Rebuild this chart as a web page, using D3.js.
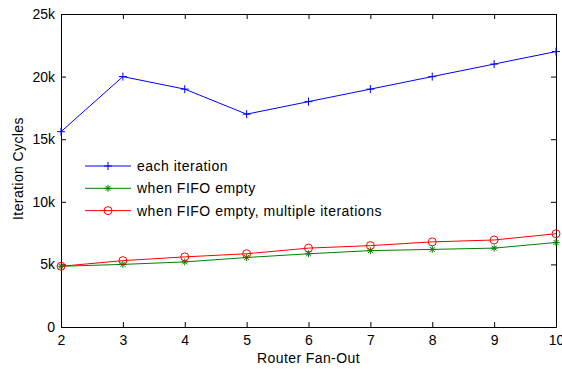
<!DOCTYPE html>
<html>
<head>
<meta charset="utf-8">
<script src="https://cdn.jsdelivr.net/npm/d3@7"></script>
<style>
  body { margin: 0; background: #fff; }
  svg text { font-family: "Liberation Sans", Arial, sans-serif; }
</style>
</head>
<body>
<svg width="562" height="369"></svg>
<script>
const fanOut = [2, 3, 4, 5, 6, 7, 8, 9, 10];
const eachIteration = [15600, 20000, 19000, 17000, 18000, 19000, 20000, 21000, 22000];
const fifoEmpty = [4850, 5000, 5200, 5550, 5850, 6100, 6200, 6300, 6750];
const fifoEmptyMulti = [4850, 5300, 5600, 5850, 6300, 6500, 6800, 6950, 7450];
const yTicks = [0, 5000, 10000, 15000, 20000, 25000];
const yTickLabels = ['0', '5k', '10k', '15k', '20k', '25k'];

const series = [
    { name: 'each iteration', values: eachIteration, color: '#0000ff', marker: 'plus' },
    { name: 'when FIFO empty', values: fifoEmpty, color: '#008000', marker: 'star' },
    { name: 'when FIFO empty, multiple iterations', values: fifoEmptyMulti, color: '#ff0000', marker: 'circle' }
];

const svg = d3.select('svg');
const width = +svg.attr('width');
const height = +svg.attr('height');

const margin = { top: 14, left: 61, right: 6, bottom: 42 };
const innerWidth = width - margin.left - margin.right;
const innerHeight = height - margin.top - margin.bottom;

const xScale = d3.scaleLinear().domain([2, 10]).range([0, innerWidth]);
const yScale = d3.scaleLinear().domain([0, 25000]).range([innerHeight, 0]);

const g = svg.append('g')
    .attr('transform', `translate(${margin.left},${margin.top})`);

const tickLen = 5;

// axes, MATLAB-style ticks pointing in
const xAxis = g.append('g')
    .attr('transform', `translate(0,${innerHeight})`)
    .call(d3.axisBottom(xScale).tickValues(fanOut).tickFormat(d3.format('d'))
        .tickSizeInner(-tickLen).tickSizeOuter(0).tickPadding(8));
const xAxisTop = g.append('g')
    .call(d3.axisTop(xScale).tickValues(fanOut).tickFormat('')
        .tickSizeInner(-tickLen).tickSizeOuter(0));
const yAxis = g.append('g')
    .call(d3.axisLeft(yScale).tickValues(yTicks).tickFormat((d, i) => yTickLabels[i])
        .tickSizeInner(-tickLen).tickSizeOuter(0).tickPadding(6));
const yAxisRight = g.append('g')
    .attr('transform', `translate(${innerWidth},0)`)
    .call(d3.axisRight(yScale).tickValues(yTicks).tickFormat('')
        .tickSizeInner(-tickLen).tickSizeOuter(0));

[xAxis, xAxisTop, yAxis, yAxisRight].forEach(a => {
    a.select('.domain').attr('stroke', '#000').attr('stroke-width', 1);
    a.selectAll('.tick line').attr('stroke', '#000');
    a.selectAll('.tick text').attr('fill', '#000').style('font-size', '14px');
});

g.append('text')
    .attr('x', innerWidth / 2)
    .attr('y', innerHeight + 36)
    .attr('text-anchor', 'middle')
    .style('font-size', '14px')
    .style('letter-spacing', '0.4px')
    .text('Router Fan-Out');

g.append('text')
    .attr('transform', `translate(-38,${innerHeight / 2 - 2}) rotate(-90)`)
    .attr('text-anchor', 'middle')
    .style('font-size', '14px')
    .style('letter-spacing', '0.4px')
    .text('Iteration Cycles');

const drawMarker = (sel, type, color) => {
    if (type === 'plus') {
        sel.append('path').attr('d', 'M-4,0H4M0,-4V4')
            .attr('stroke', color).attr('fill', 'none');
    } else if (type === 'star') {
        sel.append('path').attr('d', 'M-3.5,0H3.5M0,-3.5V3.5M-2.5,-2.5L2.5,2.5M-2.5,2.5L2.5,-2.5')
            .attr('stroke', color).attr('fill', 'none');
    } else {
        sel.append('circle').attr('r', 4)
            .attr('stroke', color).attr('fill', 'none');
    }
};

const line = d3.line()
    .x((d, i) => xScale(fanOut[i]))
    .y(d => yScale(d));

series.forEach(s => {
    g.append('path')
        .datum(s.values)
        .attr('d', line)
        .attr('fill', 'none')
        .attr('stroke', s.color)
        .attr('stroke-width', 1);

    g.selectAll(null)
        .data(s.values)
        .enter()
        .append('g')
        .attr('transform', (d, i) => `translate(${xScale(fanOut[i])},${yScale(d)})`)
        .each(function () { drawMarker(d3.select(this), s.marker, s.color); });
});

// legend
const legend = g.append('g').attr('transform', 'translate(24,152)');
series.forEach((s, i) => {
    const row = legend.append('g').attr('transform', `translate(0,${i * 22.3})`);
    row.append('line').attr('x1', 0).attr('x2', 46).attr('y1', 0).attr('y2', 0)
        .attr('stroke', s.color);
    const m = row.append('g').attr('transform', 'translate(23,0)');
    drawMarker(m, s.marker, s.color);
    row.append('text').attr('x', 52).attr('y', 5)
        .style('font-size', '14px')
        .style('letter-spacing', '0.5px')
        .text(s.name);
});
</script>
</body>
</html>
